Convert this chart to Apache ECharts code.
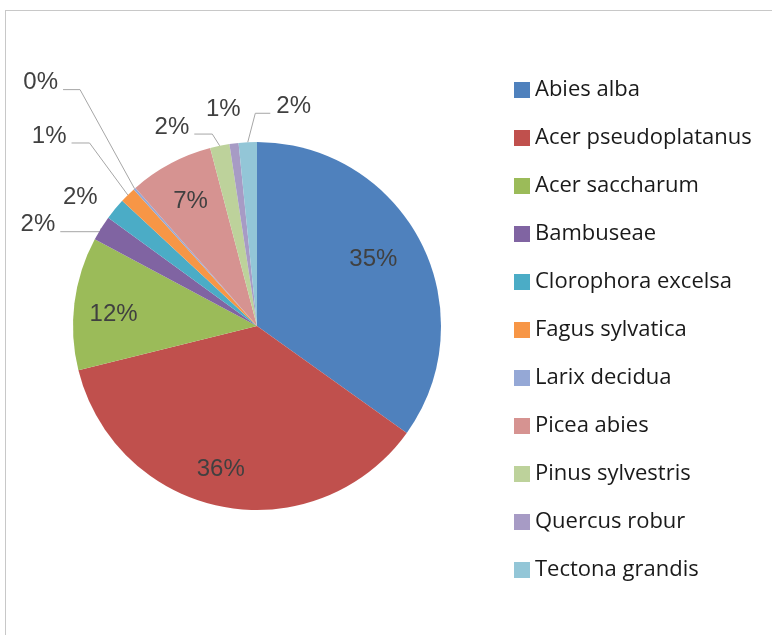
<!DOCTYPE html>
<html>
<head>
<meta charset="utf-8">
<script src="https://cdn.jsdelivr.net/npm/echarts@6/dist/echarts.min.js"></script>
<style>
  html, body { margin: 0; padding: 0; background: #fff; }
  #frame { position: absolute; left: 5px; top: 10px; width: 780px; height: 640px; border-left: 1px solid #c8c8c8; border-top: 1px solid #c8c8c8; }
  #chart { position: absolute; left: 0; top: 0; width: 772px; height: 635px; }
</style>
</head>
<body>
<div id="frame"></div>
<div id="chart"></div>
<script>
// species and their share (in %)
const species = ['Abies alba', 'Acer pseudoplatanus', 'Acer saccharum', 'Bambuseae', 'Clorophora excelsa',
  'Fagus sylvatica', 'Larix decidua', 'Picea abies', 'Pinus sylvestris', 'Quercus robur', 'Tectona grandis']
const shares = [34.9, 36.3, 11.7, 2.2, 1.9, 1.4, 0.2, 7.4, 1.7, 0.8, 1.6]
const colors = ['#4F81BD', '#C0504D', '#9BBB59', '#8064A2', '#4BACC6', '#F79646',
  '#95A8D6', '#D69391', '#BDD29B', '#A79BC5', '#93C6D7']

// big slices get their label inside, [dx, dy] nudge from the ring midpoint
const insideLabels = {
  'Abies alba': [-13, 0],
  'Acer pseudoplatanus': [-9, 0],
  'Acer saccharum': [1, 6],
  'Picea abies': [2, 4]
}
// outside labels: [length, length2, show line, elbow dx, elbow dy, label to the right]
const leaders = {
  'Bambuseae': [1, 40, true, 0, 4, false],
  'Clorophora excelsa': [3, 10, false, 0, -2, false],
  'Fagus sylvatica': [73, 18, true, 13, 0, false],
  'Larix decidua': [130, 17, true, 32, -2, false],
  'Pinus sylvestris': [12, 18, true, -5, 0, false],
  'Quercus robur': [26, -15, false, 0, 0, false],
  'Tectona grandis': [29, 15, true, 9, 0, true]
}

const pctFont = { fontFamily: 'Liberation Sans, Arial, sans-serif', fontSize: 24, color: '#404040' }
const fmt = p => Math.round(p.percent) + '%'

const chart = echarts.init(document.getElementById('chart'))

// Excel-like placement of the outside labels (leader goes to the bottom corner of the text)
function outsideLayout(p) {
  const l = leaders[species[p.dataIndex]]
  if (!l) return {}
  const [len, len2, show, dx, dy, right] = l
  const r = p.labelRect
  if (show && p.labelLinePoints) {
    const [p0, p1, p2] = p.labelLinePoints
    const elbow = [p1[0] + dx, p1[1] + dy]
    const end = right ? [elbow[0] + len2, elbow[1]] : [p2[0] + dx, p2[1] + dy]
    return {
      labelLinePoints: [p0, elbow, end],
      x: right ? end[0] + 6 : end[0] - 5,
      y: end[1] + 5,
      align: right ? 'left' : 'right',
      verticalAlign: 'bottom'
    }
  }
  return { x: r.x + r.width + dx, y: r.y + r.height / 2 + dy + 4, align: 'right', verticalAlign: 'bottom' }
}

function insideLayout(p) {
  const n = insideLabels[species[p.dataIndex]]
  if (!n) return {}
  const r = p.labelRect
  return { x: r.x + r.width / 2 + n[0], y: r.y + r.height / 2 + n[1], align: 'center', verticalAlign: 'middle' }
}

const option = {
  animation: false,
  color: colors,
  legend: {
    orient: 'vertical',
    left: 509,
    top: 73,
    itemWidth: 16,
    itemHeight: 16,
    itemGap: 24,
    icon: 'rect',
    data: species,
    textStyle: { fontFamily: 'Open Sans, sans-serif', fontSize: 22, lineHeight: 24, color: '#1a1a1a' }
  },
  series: [
    {
      // the pie itself, with the outside labels
      type: 'pie',
      center: [257, 326],
      radius: 184,
      startAngle: 90,
      avoidLabelOverlap: false,
      silent: true,
      label: Object.assign({ position: 'outside', formatter: fmt, distanceToLabelLine: 5 }, pctFont),
      labelLine: { lineStyle: { color: '#a6a6a6', width: 1 } },
      labelLayout: outsideLayout,
      data: species.map((name, i) => {
        const d = { name: name, value: shares[i] }
        const l = leaders[name]
        if (!l) {
          d.label = { show: false }
          d.labelLine = { show: false }
        } else {
          d.labelLine = { show: l[2], length: l[0], length2: l[1] }
        }
        return d
      })
    },
    {
      // transparent ring only carrying the inside labels of the big slices
      type: 'pie',
      center: [257, 326],
      radius: [101, 184],
      startAngle: 90,
      silent: true,
      itemStyle: { color: 'rgba(0,0,0,0)' },
      label: Object.assign({ position: 'inside', formatter: fmt }, pctFont),
      labelLine: { show: false },
      labelLayout: insideLayout,
      data: species.map((name, i) => ({
        name: name,
        value: shares[i],
        label: { show: name in insideLabels }
      }))
    }
  ]
}

chart.setOption(option)
</script>
</body>
</html>
